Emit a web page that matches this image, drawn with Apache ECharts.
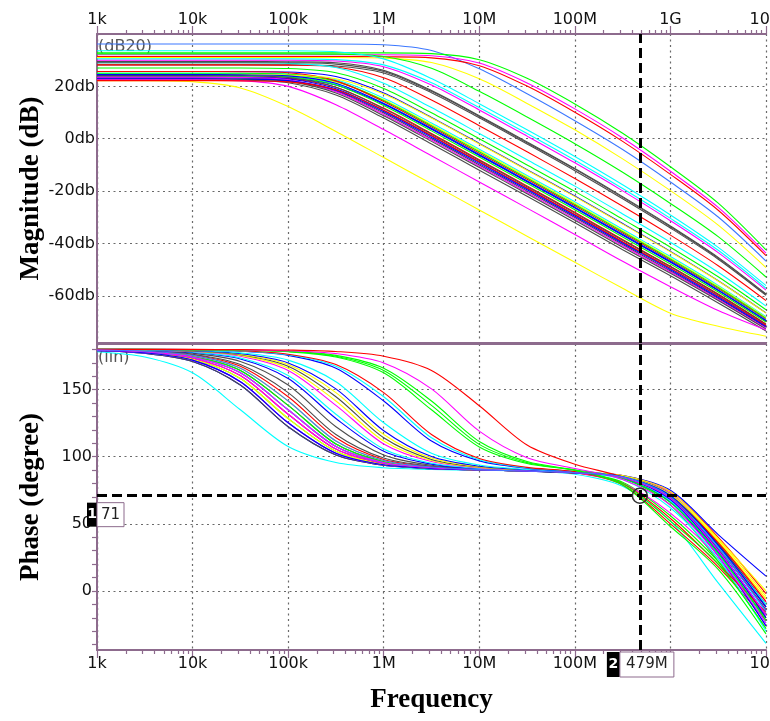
<!DOCTYPE html>
<html>
<head>
<meta charset="utf-8">
<script src="https://cdn.jsdelivr.net/npm/echarts@6/dist/echarts.min.js"></script>
<style>
html, body { margin: 0; padding: 0; background: #fff; }
#chart { width: 770px; height: 721px; }
</style>
</head>
<body>
<div id="chart"></div>
<script>
// Sweep sample frequencies (half-decade steps), Hz
const freqHz = [1e3, 3.162e3, 1e4, 3.162e4, 1e5, 3.162e5, 1e6, 3.162e6, 1e7, 3.162e7, 1e8, 3.162e8, 1e9, 3.162e9, 1e10];
const decadeLabels = ['1k', '10k', '100k', '1M', '10M', '100M', '1G', '10G'];
const magTicks = [-60, -40, -20, 0, 20];
const phaseTicks = [0, 50, 100, 150];

// Cursor readout
const cursorFreq = 479e6;
const cursorPhase = 71;

// Trace colours
const P = {
  blue: '#0000ff', sky: '#3c78ff', red: '#ff0000', green: '#00ff00',
  yellow: '#ffff00', cyan: '#00ffff', magenta: '#ff00ff', gray: '#4d4d4d'
};

// Magnitude of every Monte Carlo run (dB20), one row per run
const magDb = [
  [36.2, 36.2, 36.2, 36.2, 36.2, 36.2, 35.9, 33.7, 26.7, 17.2, 6.9, -4.1, -16.5, -29.9, -46.7],
  [32.8, 32.8, 32.8, 32.8, 32.8, 32.8, 32.8, 32.5, 30.2, 23.1, 13.3, 2.1, -10.7, -24.6, -42.4],
  [32.1, 32.1, 32.1, 32.1, 32.1, 32.1, 32.1, 31.7, 28.9, 21.3, 11.4, 0.3, -12.4, -26.2, -43.7],
  [31.4, 31.4, 31.4, 31.4, 31.4, 31.4, 31.3, 30.9, 27.9, 20.1, 10.1, -1.0, -13.6, -27.3, -44.6],
  [31.0, 31.0, 31.0, 31.0, 31.0, 31.0, 30.8, 29.1, 22.9, 13.5, 3.4, -7.7, -19.8, -33.0, -49.2],
  [32.4, 32.4, 32.4, 32.4, 32.4, 32.3, 31.4, 26.9, 18.1, 8.3, -1.9, -12.8, -24.7, -37.4, -52.8],
  [33.6, 33.6, 33.6, 33.6, 33.6, 33.2, 30.5, 23.0, 13.4, 3.4, -6.8, -17.6, -29.1, -41.5, -56.1],
  [30.5, 30.5, 30.5, 30.5, 30.5, 30.2, 28.2, 21.4, 11.9, 2.0, -8.2, -19.0, -30.4, -42.6, -57.1],
  [30.0, 30.0, 30.0, 30.0, 30.0, 29.7, 27.5, 20.5, 11.0, 1.0, -9.2, -19.9, -31.3, -43.5, -57.8],
  [29.5, 29.5, 29.5, 29.5, 29.4, 29.0, 26.1, 18.4, 8.8, -1.2, -11.4, -22.1, -33.3, -45.3, -59.3],
  [28.2, 28.2, 28.2, 28.2, 28.2, 27.8, 25.1, 17.6, 8.0, -2.0, -12.2, -22.9, -34.1, -46.0, -59.8],
  [28.2, 28.2, 28.2, 28.2, 28.1, 27.4, 23.3, 14.8, 5.0, -5.0, -15.2, -25.8, -36.8, -48.5, -61.8],
  [25.7, 25.7, 25.7, 25.7, 25.5, 23.8, 17.5, 8.1, -1.8, -11.8, -21.9, -32.4, -43.0, -54.2, -66.5],
  [25.0, 25.0, 25.0, 25.0, 24.7, 22.5, 15.5, 6.0, -4.0, -14.0, -24.1, -34.6, -45.0, -56.0, -68.0],
  [24.1, 24.1, 24.1, 24.1, 23.8, 21.7, 14.9, 5.4, -4.5, -14.5, -24.6, -35.1, -45.5, -56.4, -68.3],
  [25.0, 25.0, 25.0, 25.0, 24.6, 22.0, 14.6, 5.0, -5.0, -15.0, -25.1, -35.5, -45.9, -56.8, -68.6],
  [25.7, 25.7, 25.7, 25.6, 25.2, 22.1, 14.2, 4.5, -5.5, -15.5, -25.6, -36.0, -46.4, -57.3, -69.0],
  [24.1, 24.1, 24.1, 24.1, 23.7, 21.0, 13.6, 4.0, -6.0, -16.0, -26.1, -36.5, -46.8, -57.7, -69.3],
  [23.5, 23.5, 23.5, 23.5, 23.1, 20.5, 13.2, 3.6, -6.4, -16.4, -26.5, -36.9, -47.2, -58.0, -69.6],
  [24.1, 24.1, 24.1, 24.0, 23.6, 20.5, 12.7, 3.0, -7.0, -17.0, -27.1, -37.5, -47.8, -58.5, -70.0],
  [23.5, 23.5, 23.5, 23.4, 22.9, 19.7, 11.7, 2.0, -8.0, -18.0, -28.1, -38.5, -48.7, -59.3, -70.7],
  [23.5, 23.5, 23.5, 23.4, 22.8, 19.1, 10.8, 1.0, -9.0, -19.0, -29.1, -39.5, -49.6, -60.2, -71.4],
  [22.9, 22.9, 22.9, 22.8, 22.1, 18.2, 9.8, 0.0, -10.0, -20.0, -30.1, -40.4, -50.5, -61.0, -72.0],
  [23.5, 23.5, 23.5, 23.4, 22.5, 18.0, 9.3, -0.5, -10.5, -20.5, -30.6, -40.9, -50.9, -61.4, -72.4],
  [22.9, 22.9, 22.9, 22.8, 21.9, 17.5, 8.8, -1.0, -11.0, -21.0, -31.1, -41.4, -51.4, -61.8, -72.7],
  [22.9, 22.9, 22.9, 22.8, 22.2, 18.5, 10.3, 0.5, -9.5, -19.5, -29.6, -39.9, -50.0, -60.6, -71.7],
  [22.5, 22.5, 22.5, 22.4, 21.4, 16.7, 7.9, -2.0, -12.0, -22.0, -32.1, -42.4, -52.3, -62.7, -73.4],
  [22.5, 22.5, 22.5, 22.2, 20.0, 13.0, 3.5, -6.5, -16.5, -26.5, -36.6, -46.8, -56.5, -65.6, -73.0],
  [22.2, 22.2, 21.8, 19.4, 12.3, 2.8, -7.2, -17.2, -27.2, -37.2, -47.2, -57.1, -66.6, -71.6, -75.4],
  [27.0, 27.0, 27.0, 27.0, 26.8, 25.2, 19.2, 9.9, 0.0, -10.0, -20.1, -30.7, -41.4, -52.7, -65.3],
  [29.0, 29.0, 29.0, 29.0, 28.8, 27.2, 21.2, 11.9, 2.0, -8.0, -18.1, -28.7, -39.5, -51.0, -63.9],
  [24.5, 24.5, 24.5, 24.5, 24.3, 22.9, 17.1, 7.9, -2.0, -12.0, -22.1, -32.6, -43.2, -54.3, -66.6],
  [24.1, 24.1, 24.1, 24.0, 23.4, 19.7, 11.5, 1.7, -8.3, -18.3, -28.4, -38.8, -48.9, -59.6, -70.9],
  [22.2, 22.2, 22.2, 22.1, 21.7, 18.7, 10.9, 1.2, -8.8, -18.8, -28.9, -39.3, -49.4, -60.0, -71.2],
  [24.5, 24.5, 24.5, 24.4, 24.0, 21.2, 13.5, 3.9, -6.1, -16.1, -26.2, -36.6, -46.9, -57.8, -69.4],
  [29.0, 29.0, 29.0, 29.0, 29.0, 28.5, 25.7, 18.1, 8.5, -1.5, -11.6, -22.4, -33.6, -45.6, -59.5]
];
const magColors = [
  P.sky, P.green, P.magenta, P.red, P.yellow, P.green, P.cyan, P.cyan, P.magenta, P.gray,
  P.gray, P.red, P.blue, P.cyan, P.yellow, P.green, P.red, P.cyan, P.blue, P.green,
  P.red, P.blue, P.gray, P.magenta, P.gray, P.blue, P.gray, P.magenta, P.yellow, P.green,
  P.cyan, P.yellow, P.gray, P.red, P.blue, P.gray
];

// Phase of every Monte Carlo run (degrees), one row per run
const phaseDeg = [
  [178.2, 174.3, 162.5, 135.0, 107.6, 95.7, 91.8, 90.6, 89.9, 89.3, 87.0, 78.0, 52.0, 6.0, -39.0],
  [179.1, 177.1, 171.0, 153.4, 122.3, 101.3, 93.6, 91.1, 90.1, 89.3, 88.0, 85.5, 72.0, 34.0, -12.0],
  [179.1, 177.1, 171.0, 153.4, 122.3, 101.3, 93.6, 91.1, 90.1, 89.3, 88.0, 85.0, 70.0, 30.0, -18.0],
  [179.2, 177.4, 172.0, 155.9, 125.3, 102.6, 94.0, 91.3, 90.1, 89.3, 88.0, 84.5, 68.0, 28.0, -22.0],
  [179.2, 177.4, 172.0, 155.9, 125.3, 102.6, 94.0, 91.3, 90.1, 89.3, 88.0, 85.5, 73.0, 36.0, -8.0],
  [179.3, 177.7, 172.8, 158.3, 128.5, 104.1, 94.5, 91.4, 90.2, 89.3, 88.0, 84.0, 64.0, 22.0, -28.0],
  [179.3, 177.7, 172.8, 158.3, 128.5, 104.1, 94.5, 91.4, 90.2, 89.3, 88.0, 85.5, 72.0, 38.0, -4.0],
  [179.4, 178.0, 173.6, 160.5, 131.7, 105.7, 95.1, 91.6, 90.2, 89.4, 88.0, 86.0, 74.0, 40.0, -2.0],
  [179.4, 178.0, 173.6, 160.5, 131.7, 105.7, 95.1, 91.6, 90.2, 89.4, 88.0, 85.0, 71.0, 33.0, -14.0],
  [179.4, 178.2, 174.3, 162.5, 135.0, 107.6, 95.7, 91.8, 90.3, 89.4, 88.1, 86.0, 75.0, 42.0, 11.0],
  [179.4, 178.2, 174.3, 162.5, 135.0, 107.6, 95.7, 91.8, 90.3, 89.4, 88.1, 85.0, 70.0, 32.0, -16.0],
  [179.5, 178.4, 174.9, 164.3, 138.3, 109.5, 96.4, 92.0, 90.3, 89.4, 88.1, 85.5, 72.0, 35.0, -10.0],
  [179.5, 178.4, 174.9, 164.3, 138.3, 109.5, 96.4, 92.0, 90.3, 89.4, 88.1, 81.0, 56.0, 22.0, -20.0],
  [179.5, 178.6, 175.5, 165.9, 141.5, 111.7, 97.2, 92.3, 90.4, 89.4, 88.1, 85.0, 71.0, 36.0, -6.0],
  [179.6, 178.7, 176.0, 167.4, 144.7, 114.1, 98.0, 92.6, 90.5, 89.5, 88.1, 79.0, 50.0, 18.0, -22.0],
  [179.6, 178.9, 176.4, 168.7, 147.8, 116.6, 99.0, 92.9, 90.6, 89.5, 88.1, 85.0, 70.0, 31.0, -20.0],
  [179.7, 179.1, 177.1, 171.0, 153.4, 122.3, 101.3, 93.6, 90.8, 89.6, 88.1, 85.5, 72.0, 35.0, -12.0],
  [179.8, 179.3, 177.7, 172.8, 158.3, 128.5, 104.1, 94.5, 91.1, 89.7, 88.1, 84.5, 69.0, 30.0, -18.0],
  [179.8, 179.4, 178.0, 173.6, 160.5, 131.7, 105.7, 95.1, 91.3, 89.7, 88.2, 84.0, 67.0, 27.0, -24.0],
  [179.8, 179.5, 178.4, 174.9, 164.3, 138.3, 109.5, 96.4, 91.7, 89.8, 88.2, 80.0, 58.0, 24.0, -26.0],
  [179.9, 179.5, 178.6, 175.5, 165.9, 141.5, 111.7, 97.2, 92.0, 89.9, 88.2, 86.0, 74.0, 39.0, 0.0],
  [179.9, 179.6, 178.7, 176.0, 167.4, 144.7, 114.1, 98.0, 92.3, 90.0, 88.3, 85.0, 70.0, 32.0, -14.0],
  [179.9, 179.6, 178.9, 176.4, 168.7, 147.8, 116.6, 99.0, 92.6, 90.1, 88.3, 85.5, 72.0, 37.0, -6.0],
  [179.9, 179.7, 179.0, 176.8, 169.9, 150.6, 119.4, 100.1, 92.9, 90.2, 88.3, 84.5, 68.0, 29.0, -20.0],
  [179.9, 179.7, 179.2, 177.4, 172.0, 155.9, 125.3, 102.6, 93.8, 90.5, 88.4, 85.0, 71.0, 33.0, -10.0],
  [180.0, 179.9, 179.5, 178.6, 175.5, 165.9, 141.5, 111.7, 96.9, 91.5, 88.7, 84.0, 66.0, 26.0, -26.0],
  [180.0, 179.9, 179.6, 178.7, 176.0, 167.4, 144.7, 114.1, 97.7, 91.8, 88.8, 83.0, 62.0, 24.0, -30.0],
  [180.0, 179.9, 179.6, 178.9, 176.4, 168.7, 147.8, 116.6, 98.7, 92.1, 88.9, 80.0, 54.0, 20.0, -16.0],
  [180.0, 180.0, 179.8, 179.4, 178.2, 174.3, 162.5, 135.0, 107.3, 94.9, 89.8, 79.0, 48.0, 16.0, -32.0],
  [180.0, 180.0, 179.8, 179.5, 178.4, 174.9, 164.3, 138.3, 109.2, 95.6, 90.0, 80.0, 52.0, 20.0, -28.0],
  [180.0, 180.0, 179.9, 179.5, 178.6, 175.5, 165.9, 141.5, 111.4, 96.4, 90.3, 84.0, 66.0, 28.0, -22.0],
  [180.0, 180.0, 179.9, 179.7, 179.0, 176.8, 169.9, 150.6, 119.1, 99.3, 91.2, 83.0, 64.0, 26.0, -24.0],
  [180.0, 180.0, 180.0, 179.8, 179.5, 178.4, 174.9, 164.3, 138.0, 108.7, 94.4, 85.0, 70.0, 36.0, -8.0],
  [179.2, 177.4, 172.0, 155.9, 125.3, 102.6, 94.0, 91.3, 90.1, 89.3, 88.0, 85.0, 71.0, 34.0, -12.0],
  [179.4, 178.2, 174.3, 162.5, 135.0, 107.6, 95.7, 91.8, 90.3, 89.4, 88.1, 84.5, 69.0, 30.0, -18.0],
  [179.5, 178.6, 175.5, 165.9, 141.5, 111.7, 97.2, 92.3, 90.4, 89.4, 88.1, 85.0, 70.0, 32.0, -15.0]
];
const phaseColors = [
  P.cyan, P.blue, P.gray, P.sky, P.magenta, P.green, P.yellow, P.red, P.magenta, P.blue,
  P.cyan, P.gray, P.green, P.yellow, P.red, P.gray, P.gray, P.blue, P.cyan, P.magenta,
  P.yellow, P.gray, P.yellow, P.blue, P.cyan, P.blue, P.cyan, P.red, P.green, P.green,
  P.green, P.magenta, P.red, P.blue, P.magenta, P.sky
];

// ---- styling ----
const purple = '#8d6b8d';
const tickFont = { fontFamily: 'DejaVu Sans', fontSize: 16, color: '#111' };
const titleFont = { fontFamily: 'Liberation Serif', fontWeight: 'bold', fontSize: 27, color: '#000' };
const dotted = { show: true, lineStyle: { color: '#6a6a6a', width: 1.2, type: [2, 3.5] } };
const cursorLine = { color: '#000', width: 3, type: [10, 5] };

// minor tick positions (in decades) for the frequency axes: 2..9 within each decade
const minorDecades = [];
for (let d = 3; d < 10; d++) for (let k = 2; k <= 9; k++) minorDecades.push(d + Math.log10(k));
const phaseMinor = [];
for (let v = -40; v <= 180; v += 10) phaseMinor.push(v);

function decadeLabel(v) { return decadeLabels[Math.round(Math.log10(v)) - 3] || ''; }
function bottomLabel(v) {
  // the cursor readout box sits over the axis labels next to the cursor
  return Math.abs(Math.log10(v) - Math.log10(cursorFreq)) < 0.4 ? '' : decadeLabel(v);
}

const freqAxis = (grid, pos, labelFn, extra) => Object.assign({
  gridIndex: grid, type: 'log', min: 1e3, max: 1e10, position: pos,
  axisLine: { show: true, onZero: false, lineStyle: { color: purple, width: 2 } },
  axisTick: { show: true, length: 8, lineStyle: { color: purple, width: 1.2 } },
  axisLabel: Object.assign({ formatter: labelFn, margin: 6 }, tickFont),
  splitLine: dotted
}, extra || {});
const minorAxis = (grid, pos) => ({
  gridIndex: grid, type: 'value', min: 3, max: 10, position: pos,
  axisLine: { show: false, onZero: false },
  axisTick: { show: true, length: 4, customValues: minorDecades, lineStyle: { color: purple, width: 1.2 } },
  axisLabel: { show: false }, splitLine: { show: false }
});
const edgeAxis = (grid, pos) => ({
  gridIndex: grid, type: 'value', min: 3, max: 10, position: pos,
  axisLine: { show: true, onZero: false, lineStyle: { color: purple, width: 2 } },
  axisTick: { show: false }, axisLabel: { show: false }, splitLine: { show: false }
});

const series = [];
magDb.forEach((vals, i) => {
  series.push({
    type: 'line', xAxisIndex: 0, yAxisIndex: 0,
    data: freqHz.map((f, j) => [f, vals[j]]),
    showSymbol: false, smooth: 0.3, silent: true,
    lineStyle: { color: magColors[i], width: 1.1 }, itemStyle: { color: magColors[i] }
  });
});
phaseDeg.forEach((vals, i) => {
  series.push({
    type: 'line', xAxisIndex: 3, yAxisIndex: 1,
    data: freqHz.map((f, j) => [f, vals[j]]),
    showSymbol: false, smooth: 0.3, silent: true,
    lineStyle: { color: phaseColors[i], width: 1.1 }, itemStyle: { color: phaseColors[i] }
  });
});
// cursor lines
series.push({
  type: 'line', xAxisIndex: 0, yAxisIndex: 0, data: [], z: 10, silent: true,
  markLine: { silent: true, symbol: 'none', animation: false, label: { show: false },
    lineStyle: cursorLine, data: [{ xAxis: cursorFreq }] }
});
series.push({
  type: 'line', xAxisIndex: 3, yAxisIndex: 1, data: [], z: 10, silent: true,
  markLine: { silent: true, symbol: 'none', animation: false, label: { show: false },
    lineStyle: cursorLine, data: [{ xAxis: cursorFreq }, { yAxis: cursorPhase }] },
  markPoint: { silent: true, animation: false, symbol: 'circle', symbolSize: 15,
    itemStyle: { color: 'rgba(0,0,0,0)', borderColor: '#333', borderWidth: 1.5 },
    label: { show: false }, data: [{ coord: [cursorFreq, cursorPhase] }] }
});

const chart = echarts.init(document.getElementById('chart'), null, { renderer: 'canvas' });
chart.setOption({
  animation: false,
  backgroundColor: '#fff',
  grid: [
    { left: 97, top: 34, width: 669, height: 309, outerBoundsMode: 'none' },
    { left: 97, top: 344, width: 669, height: 306, outerBoundsMode: 'none' }
  ],
  xAxis: [
    freqAxis(0, 'top', decadeLabel),
    minorAxis(0, 'top'),
    edgeAxis(0, 'bottom'),
    freqAxis(1, 'bottom', bottomLabel, {
      name: 'Frequency', nameLocation: 'middle', nameGap: 37, nameMoveOverlap: false,
      nameTextStyle: titleFont
    }),
    minorAxis(1, 'bottom'),
    edgeAxis(1, 'top')
  ],
  yAxis: [
    {
      gridIndex: 0, type: 'value', min: -78, max: 40, position: 'left',
      name: 'Magnitude (dB)', nameLocation: 'middle', nameGap: 52, nameMoveOverlap: false,
      nameTextStyle: titleFont,
      axisLine: { show: true, onZero: false, lineStyle: { color: purple, width: 2 } },
      axisTick: { show: false, customValues: magTicks },
      axisLabel: Object.assign({ customValues: magTicks, formatter: v => v + 'db', margin: 2 }, tickFont),
      splitLine: dotted
    },
    {
      gridIndex: 1, type: 'value', min: -44, max: 184, position: 'left',
      name: 'Phase (degree)', nameLocation: 'middle', nameGap: 52, nameMoveOverlap: false,
      nameTextStyle: titleFont,
      axisLine: { show: true, onZero: false, lineStyle: { color: purple, width: 2 } },
      axisTick: { show: false, customValues: phaseTicks },
      axisLabel: Object.assign({ customValues: phaseTicks, margin: 5 }, tickFont),
      splitLine: dotted
    },
    {
      gridIndex: 1, type: 'value', min: -44, max: 184, position: 'left',
      axisLine: { show: false, onZero: false },
      axisTick: { show: true, length: 5, customValues: phaseMinor, lineStyle: { color: purple, width: 1.2 } },
      axisLabel: { show: false }, splitLine: { show: false }
    }
  ],
  series: series
});

// Scale names and cursor readouts, placed through the axes
const x0 = chart.convertToPixel({ xAxisIndex: 3 }, 1e3);
const cx = chart.convertToPixel({ xAxisIndex: 3 }, cursorFreq);
const cy = chart.convertToPixel({ yAxisIndex: 1 }, cursorPhase);
const yMagTop = chart.convertToPixel({ yAxisIndex: 0 }, 40);
const yPhTop = chart.convertToPixel({ yAxisIndex: 1 }, 184);
const yPhBot = chart.convertToPixel({ yAxisIndex: 1 }, -44);
const freqText = (cursorFreq / 1e6) + 'M';

chart.setOption({
  graphic: [
    { type: 'text', left: x0 + 1, top: yMagTop + 5, z: 0,
      style: { text: '(dB20)', fill: '#555', font: '16px "DejaVu Sans"' } },
    { type: 'text', left: x0 + 1, top: yPhTop + 6, z: 0,
      style: { text: '(lin)', fill: '#555', font: '16px "DejaVu Sans"' } },
    // phase readout
    { type: 'rect', shape: { x: x0 - 10, y: cy + 7, width: 10, height: 24 }, z: 100,
      style: { fill: '#000' } },
    { type: 'text', x: x0 - 5, y: cy + 19, z: 101,
      style: { text: '1', fill: '#fff', font: 'bold 14px "DejaVu Sans"', align: 'center', verticalAlign: 'middle' } },
    { type: 'rect', shape: { x: x0, y: cy + 7, width: 27, height: 24 }, z: 100,
      style: { fill: '#fff', stroke: purple, lineWidth: 1 } },
    { type: 'text', x: x0 + 13.5, y: cy + 19, z: 101,
      style: { text: String(cursorPhase), fill: '#222', font: '15px "DejaVu Sans"', align: 'center', verticalAlign: 'middle' } },
    // frequency readout
    { type: 'rect', shape: { x: cx - 33, y: yPhBot + 2, width: 13, height: 25 }, z: 100,
      style: { fill: '#000' } },
    { type: 'text', x: cx - 26.5, y: yPhBot + 14.5, z: 101,
      style: { text: '2', fill: '#fff', font: 'bold 14px "DejaVu Sans"', align: 'center', verticalAlign: 'middle' } },
    { type: 'rect', shape: { x: cx - 20, y: yPhBot + 2, width: 54, height: 25 }, z: 100,
      style: { fill: '#fff', stroke: purple, lineWidth: 1 } },
    { type: 'text', x: cx + 7, y: yPhBot + 14.5, z: 101,
      style: { text: freqText, fill: '#222', font: '15px "DejaVu Sans"', align: 'center', verticalAlign: 'middle' } }
  ]
});
</script>
</body>
</html>
